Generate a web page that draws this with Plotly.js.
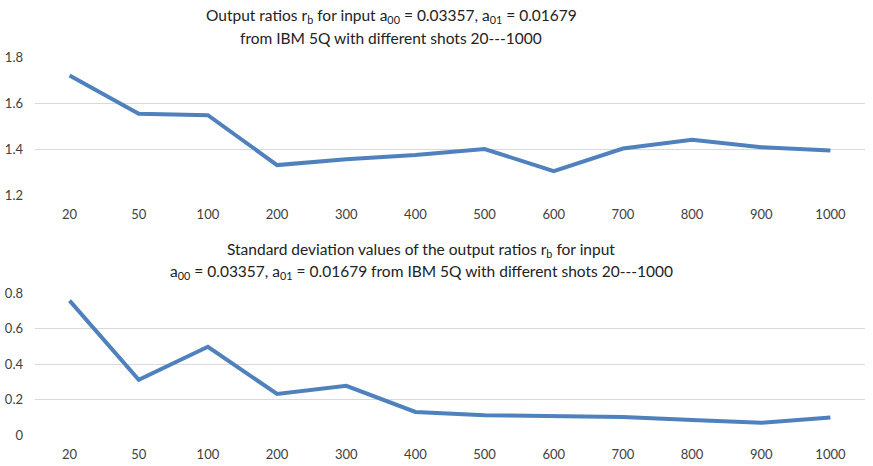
<!DOCTYPE html>
<html>
<head>
<meta charset="utf-8">
<script src="https://cdn.plot.ly/plotly-3.0.1.min.js"></script>
<style>html,body{margin:0;padding:0;background:#fff;}#chart{width:873px;height:466px;}</style>
</head>
<body>
<div id="chart"></div>
<script>
const shots = ["20","50","100","200","300","400","500","600","700","800","900","1000"];
const ratios = [1.719,1.553,1.547,1.330,1.355,1.374,1.400,1.304,1.402,1.440,1.408,1.394];
const stdDevs = [0.757,0.311,0.497,0.231,0.277,0.130,0.112,0.106,0.102,0.084,0.069,0.099];
const topTitleLines = ["Output ratios r<sub>b</sub> for input a<sub>00</sub> = 0.03357, a<sub>01</sub> = 0.01679", "from IBM 5Q with different shots 20---1000"];
const bottomTitleLines = ["Standard deviation values of the output ratios r<sub>b</sub> for input", "a<sub>00</sub> = 0.03357, a<sub>01</sub> = 0.01679 from IBM 5Q with different shots 20---1000"];

const lineStyle = {color:"#4f81bd", width:4};
const font = "Lato, 'Open Sans', sans-serif";
const tickFont = {family:font, size:13, color:"#404040"};
const xaxisBase = {type:"category", range:[-0.5,11.5], showgrid:false, zeroline:false, showline:false, ticks:"", tickfont:tickFont, ticklabelstandoff:10};
const yaxisBase = {showgrid:true, gridcolor:"#d9d9d9", gridwidth:1, zeroline:false, showline:false, ticks:"", tickfont:tickFont, ticklabelstandoff:11};

const data = [
  {x:shots, y:ratios, type:"scatter", mode:"lines", line:lineStyle, xaxis:"x", yaxis:"y", hoverinfo:"none"},
  {x:shots, y:stdDevs, type:"scatter", mode:"lines", line:lineStyle, xaxis:"x2", yaxis:"y2", hoverinfo:"none"}
];
function titleAnn(text, cx, cy) {
  return {text:text, xref:"paper", yref:"paper", x:(cx-35)/830, y:1-cy/466, xanchor:"center", yanchor:"middle", showarrow:false, font:{family:font, size:15.5, color:"#222"}};
}
const layout = {
  width:873, height:466,
  margin:{l:35, r:8, t:0, b:0},
  paper_bgcolor:"#fff", plot_bgcolor:"#fff",
  showlegend:false,
  font:{family:font},
  xaxis:Object.assign({}, xaxisBase, {anchor:"y", domain:[0,1]}),
  yaxis:Object.assign({}, yaxisBase, {anchor:"x", domain:[0.5815,0.8777], range:[1.2,1.8], tickvals:[1.2,1.4,1.6,1.8], ticktext:["1.2","1.4","1.6","1.8"]}),
  xaxis2:Object.assign({}, xaxisBase, {anchor:"y2", domain:[0,1]}),
  yaxis2:Object.assign({}, yaxisBase, {anchor:"x2", domain:[0.0665,0.3712], range:[0,0.8], tickvals:[0,0.2,0.4,0.6,0.8], ticktext:["0","0.2","0.4","0.6","0.8"]}),
  annotations:[
    titleAnn(topTitleLines[0], 391, 16),
    titleAnn(topTitleLines[1], 391, 38),
    titleAnn(bottomTitleLines[0], 421, 250),
    titleAnn(bottomTitleLines[1], 421, 272)
  ]
};
Plotly.newPlot("chart", data, layout, {displayModeBar:false, staticPlot:true});
</script>
</body>
</html>
